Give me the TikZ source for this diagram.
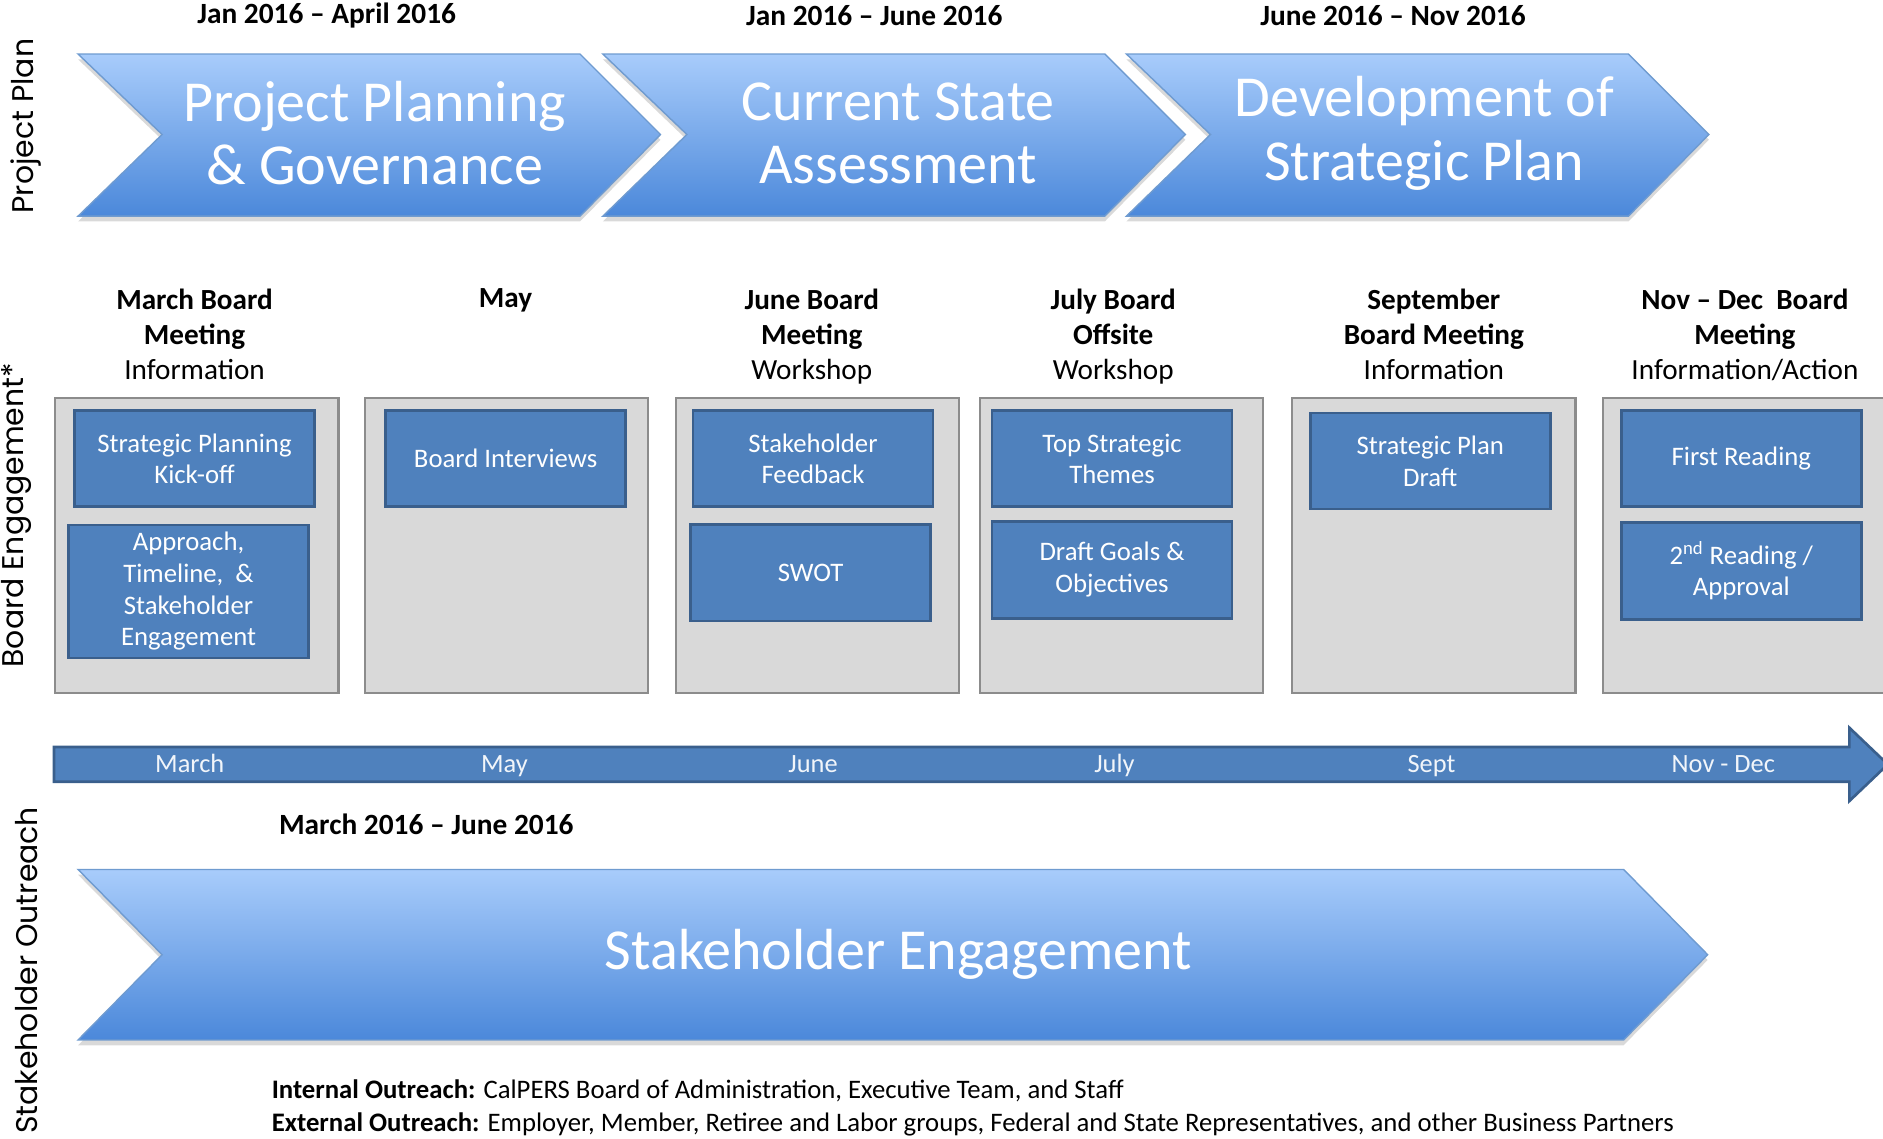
\documentclass[tikz,border=0pt]{standalone}
\usepackage{fontspec}
\setmainfont{Carlito}
\newfontfamily\sidefont{Poppins}
\usepackage{xcolor}
\usetikzlibrary{shadows}

\definecolor{taskblue}{HTML}{4F81BD}
\definecolor{taskedge}{HTML}{3A5F8C}
\definecolor{monthgray}{HTML}{D9D9D9}
\definecolor{monthedge}{HTML}{8C8C8C}
\definecolor{chevtop}{HTML}{A8CCFB}
\definecolor{chevmid}{HTML}{86B3F0}
\definecolor{chevbot}{HTML}{4B88DA}
\definecolor{chevedge}{HTML}{6F9BD0}

\begin{document}
\begin{tikzpicture}[x=0.024cm, y=-0.024cm,
    chevron/.style={top color=chevtop, middle color=chevmid, bottom color=chevbot, draw=chevedge, line width=0.8pt,
      drop shadow={opacity=0.3, shadow xshift=0pt, shadow yshift=-3pt}},
    chevtext/.style={text=white, align=center, inner sep=0pt, font=\fontsize{33}{36}\selectfont},
    period/.style={inner sep=0pt, font=\bfseries\fontsize{16.7}{20}\selectfont},
    meeting/.style={anchor=north, align=center, inner sep=0pt, font=\fontsize{16.6}{20}\selectfont},
    monthbox/.style={draw=monthedge, fill=monthgray, line width=1.2pt, minimum width=5.66cm, minimum height=5.9cm, inner sep=0pt},
    task/.style={draw=taskedge, fill=taskblue, line width=1.5pt, text=white, align=center, minimum width=4.8cm,
      minimum height=1.92cm, inner sep=0pt, font=\fontsize{15.2}{18}\selectfont},
    month/.style={anchor=base, text=white!92!taskblue, inner sep=0pt, font=\fontsize{15}{18}\selectfont},
    outreach/.style={anchor=base west, inner sep=0pt, font=\fontsize{15.2}{18}\selectfont},
    side/.style={rotate=90, inner sep=0pt, font=\sidefont\fontsize{17}{20}\selectfont}]
  \useasboundingbox (0,0) rectangle (1568,948);
  \clip (0,0) rectangle (1568,948);

  % Side labels
  \node[side] (splan) at (22,105) {Project Plan};
  \node[side] (sboard) at (14,429) {Board Engagement*};
  \node[side] (sout) at (22,808) {Stakeholder Outreach};

  % Project plan phases
  \foreach \x in {0,437,873}
    \path[chevron] (65+\x,45) -- (483+\x,45) -- (550+\x,112) -- (483+\x,180) -- (65+\x,180) -- (135+\x,112) -- cycle;
  \node[period] (d1) at (272,13) {Jan 2016 – April 2016};
  \node[period] (d2) at (728,13) {Jan 2016 – June 2016};
  \node[period] (d3) at (1160,13) {June 2016 – Nov 2016};
  \node[chevtext] (p1) at (312,111) {Project Planning\\\& Governance};
  \node[chevtext] (p2) at (748,111) {Current State\\Assessment};
  \node[chevtext] (p3) at (1186,111) {Development of\\Strategic Plan};

  % Board meetings
  \node[monthbox] (m1) at (164,454) {};
  \node[monthbox] (m2) at (422,454) {};
  \node[monthbox] (m3) at (681,454) {};
  \node[monthbox] (m4) at (934,454) {};
  \node[monthbox] (m5) at (1194,454) {};
  \node[monthbox] (m6) at (1453,454) {};

  \node[meeting] (h1) at (162,240) {\textbf{March Board}\\\textbf{Meeting}\\Information};
  \node[meeting] (h2) at (421,240) {\textbf{May}};
  \node[meeting] (h3) at (676,240) {\textbf{June Board}\\\textbf{Meeting}\\Workshop};
  \node[meeting] (h4) at (927,240) {\textbf{July Board}\\\textbf{Offsite}\\Workshop};
  \node[meeting] (h5) at (1194,240) {\textbf{September}\\\textbf{Board Meeting}\\Information};
  \node[meeting] (h6) at (1453,240) {\textbf{Nov – Dec\ \ Board}\\\textbf{Meeting}\\Information/Action};

  \node[task] (t1a) at (162,382) {Strategic Planning\\Kick-off};
  \node[task, minimum height=2.66cm] (t1b) at (157,492.5) {Approach,\\Timeline,\ \ \&\\Stakeholder\\Engagement};
  \node[task] (t2) at (421,382) {Board Interviews};
  \node[task] (t3a) at (677,382) {Stakeholder\\Feedback};
  \node[task] (t3b) at (675,477) {SWOT};
  \node[task] (t4a) at (926,382) {Top Strategic\\Themes};
  \node[task, minimum height=1.94cm] (t4b) at (926,474.5) {Draft Goals \&\\Objectives};
  \node[task] (t5) at (1191,384) {Strategic Plan\\Draft};
  \node[task] (t6a) at (1450,382) {First Reading};
  \node[task, minimum height=1.94cm] (t6b) at (1450,475.5) {2\textsuperscript{nd} Reading /\\Approval};

  % Timeline
  \draw[draw=taskedge, fill=taskblue, line width=1.5pt] (45,622) -- (1540,622) -- (1540,606) -- (1572,636.5)
    -- (1540,667) -- (1540,651) -- (45,651) -- cycle;
  \node[month] (mar) at (158,643) {March};
  \node[month] (may) at (420,643) {May};
  \node[month] (jun) at (677,643) {June};
  \node[month] (jul) at (928,643) {July};
  \node[month] (sep) at (1192,643) {Sept};
  \node[month] (nov) at (1435,643) {Nov - Dec};

  % Stakeholder outreach
  \node[period] (d4) at (355,686) {March 2016 – June 2016};
  \path[chevron] (65,724) -- (1352,724) -- (1422,795) -- (1352,866) -- (65,866) -- (135,795) -- cycle;
  \node[chevtext] (p4) at (748,795) {Stakeholder Engagement};
  \node[outreach] (int) at (226,915)
    {\textbf{Internal Outreach:} CalPERS Board of Administration, Executive Team, and Staff};
  \node[outreach] (ext) at (226,942)
    {\textbf{External Outreach:} Employer, Member, Retiree and Labor groups, Federal and State Representatives, and other Business Partners};
\end{tikzpicture}
\end{document}
